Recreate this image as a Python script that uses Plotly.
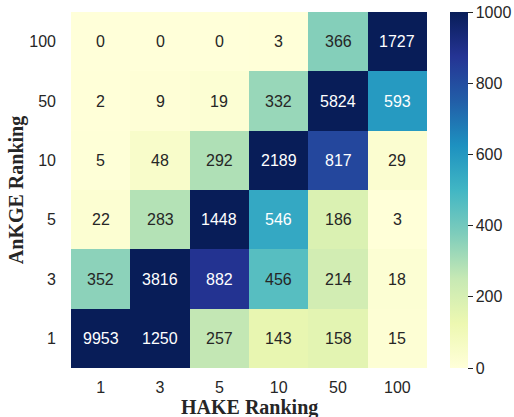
import plotly.graph_objects as go

hake_ranks = ["1", "3", "5", "10", "50", "100"]
ankge_ranks = ["1", "3", "5", "10", "50", "100"]

# rows bottom-to-top: AnKGE rank 1, 3, 5, 10, 50, 100 ; columns HAKE 1..100
row_1 = [9953, 1250, 257, 143, 158, 15]
row_3 = [352, 3816, 882, 456, 214, 18]
row_5 = [22, 283, 1448, 546, 186, 3]
row_10 = [5, 48, 292, 2189, 817, 29]
row_50 = [2, 9, 19, 332, 5824, 593]
row_100 = [0, 0, 0, 3, 366, 1727]

z = [row_1, row_3, row_5, row_10, row_50, row_100]

ylgnbu = ["#ffffd9", "#edf8b1", "#c7e9b4", "#7fcdbb", "#41b6c4",
          "#1d91c0", "#225ea8", "#253494", "#081d58"]
colorscale = [[i / 8, c] for i, c in enumerate(ylgnbu)]

xi = list(range(len(hake_ranks)))
yi = list(range(len(ankge_ranks)))

sans = "Liberation Sans, Arial, sans-serif"
serif = "Liberation Serif, Times New Roman, serif"
ink = "#262626"

fig = go.Figure()
fig.add_trace(go.Heatmap(
    x=xi, y=yi, z=z,
    zmin=0, zmax=1000, colorscale=colorscale,
    showscale=True, xgap=0, ygap=0,
    colorbar=dict(
        x=1.065, xanchor="left", y=0.5, yanchor="middle",
        len=1.0, lenmode="fraction", thickness=18, outlinewidth=0,
        xpad=0, ypad=0,
        tickvals=[0, 200, 400, 600, 800, 1000],
        ticks="outside", ticklen=5, tickwidth=1.3, tickcolor=ink,
        tickfont=dict(family=sans, size=16, color=ink),
    ),
    hoverinfo="skip",
))

for ri, row in enumerate(z):
    for ci, v in enumerate(row):
        fig.add_annotation(
            x=xi[ci], y=yi[ri], text=str(v), showarrow=False,
            font=dict(family=sans, size=16,
                      color="white" if v > 500 else ink),
        )

# x-axis title placed as an annotation just below the tick labels
fig.add_annotation(
    x=0.5, xref="paper", y=0, yref="paper", yanchor="top", yshift=-26,
    text="<b>HAKE Ranking</b>", showarrow=False,
    font=dict(family=serif, size=20, color=ink),
)

fig.update_layout(
    width=514, height=417,
    margin=dict(l=71, r=87, t=12, b=49, autoexpand=False),
    plot_bgcolor="white", paper_bgcolor="white",
    xaxis=dict(
        range=[-0.5, 5.5], tickvals=xi, ticktext=hake_ranks,
        showgrid=False, zeroline=False, ticks="", showline=False,
        ticklabelstandoff=8,
        tickfont=dict(family=sans, size=16, color=ink),
    ),
    yaxis=dict(
        range=[-0.5, 5.5], tickvals=yi, ticktext=ankge_ranks,
        showgrid=False, zeroline=False, ticks="", showline=False,
        ticklabelstandoff=14,
        tickfont=dict(family=sans, size=16, color=ink),
        title=dict(text="<b>AnKGE Ranking</b>", standoff=0,
                   font=dict(family=serif, size=20, color=ink)),
    ),
)

fig.write_html("out.html", config={"displayModeBar": False},
               post_script="document.body.style.margin='0';")
